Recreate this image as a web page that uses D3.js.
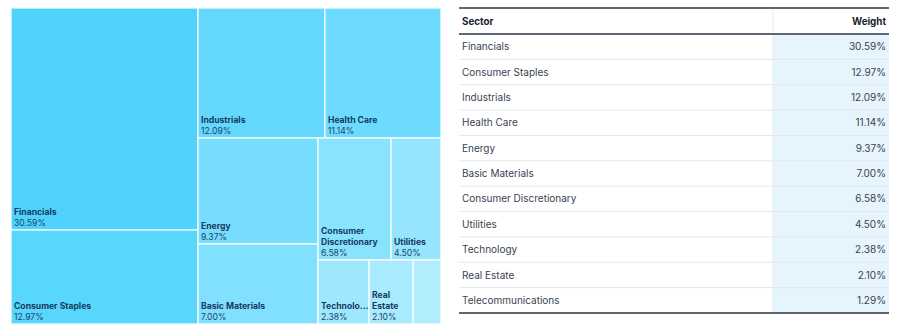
<!DOCTYPE html>
<html>
<head>
<meta charset="utf-8">
<script src="https://cdn.jsdelivr.net/npm/d3@7"></script>
<style>
  body { margin: 0; background: #fff; font-family: Inter, "Noto Sans", sans-serif; }
</style>
</head>
<body>
<svg id="chart" width="900" height="332"></svg>
<script>
// data
const sectors = ["Financials", "Consumer Staples", "Industrials", "Health Care", "Energy",
  "Basic Materials", "Consumer Discretionary", "Utilities", "Technology", "Real Estate", "Telecommunications"];
const weights = [30.59, 12.97, 12.09, 11.14, 9.37, 7.00, 6.58, 4.50, 2.38, 2.10, 1.29];
// how labels get broken / cut in the small cells
const labelLines = {
  "Consumer Discretionary": ["Consumer", "Discretionary"],
  "Real Estate": ["Real", "Estate"],
  "Technology": ["Technolo..."],
  "Telecommunications": []
};

const svg = d3.select("#chart");
const fmt = d => d.toFixed(2) + "%";

// ---- treemap ----
const tm = { x: 11, y: 8, w: 430, h: 316 };
const rows = sectors.map((s, i) => ({ name: s, value: weights[i], rank: i }));

const root = d3.hierarchy({ children: rows }).sum(d => d.value).sort((a, b) => b.value - a.value);
d3.treemap().tile(d3.treemapSquarify.ratio(1.35)).size([tm.w, tm.h]).round(true)(root);

const color = d3.scaleLinear().domain([0, sectors.length - 1]).range(["#4fd3fc", "#b2edfe"]);

const g = svg.append("g").attr("transform", `translate(${tm.x},${tm.y})`);
const cell = g.selectAll("g.cell").data(root.leaves()).join("g")
  .attr("class", "cell")
  .attr("transform", d => `translate(${d.x0},${d.y0})`);

cell.append("rect")
  .attr("width", d => d.x1 - d.x0)
  .attr("height", d => d.y1 - d.y0)
  .attr("fill", d => color(d.data.rank))
  .attr("stroke", "#fff").attr("stroke-width", 1.2);

cell.each(function (d) {
  const lines = labelLines[d.data.name] || [d.data.name];
  if (!lines.length) return;
  const h = d.y1 - d.y0;
  const t = d3.select(this);
  lines.forEach((ln, j) => {
    t.append("text")
      .attr("x", 3)
      .attr("y", h - 4.5 - 11 * (lines.length - j))
      .attr("font-size", 8.6).attr("font-weight", 700)
      .attr("fill", "#163a63")
      .text(ln);
  });
  t.append("text")
    .attr("x", 3).attr("y", h - 4.5)
    .attr("font-size", 8.6)
    .attr("fill", "#1d4470")
    .text(fmt(d.data.value));
});

// ---- table ----
const tb = { x: 459, y: 8, w: 430, colX: 773, headH: 26 };
const rowH = (313 - (tb.y + tb.headH)) / sectors.length;
const y = d3.scaleBand().domain(sectors).range([tb.y + tb.headH, tb.y + tb.headH + rowH * sectors.length]);

const tg = svg.append("g");
tg.append("rect")
  .attr("x", tb.colX).attr("y", y.range()[0])
  .attr("width", tb.x + tb.w - tb.colX).attr("height", y.range()[1] - y.range()[0])
  .attr("fill", "#e5f4fd");
tg.append("line")
  .attr("x1", tb.colX).attr("x2", tb.colX)
  .attr("y1", tb.y).attr("y2", y.range()[1])
  .attr("stroke", "#e3e7ec");

tg.selectAll("line.sep").data(sectors.slice(1)).join("line")
  .attr("class", "sep")
  .attr("x1", tb.x).attr("x2", tb.x + tb.w)
  .attr("y1", d => y(d)).attr("y2", d => y(d))
  .attr("stroke", "#e3e6ea");

[tb.y, tb.y + tb.headH, y.range()[1]].forEach(yy => {
  tg.append("line")
    .attr("x1", tb.x).attr("x2", tb.x + tb.w)
    .attr("y1", yy).attr("y2", yy)
    .attr("stroke", "#2b3443").attr("stroke-width", 1.6);
});

tg.append("text").attr("x", 462).attr("y", tb.y + tb.headH / 2 + 3.5)
  .attr("font-size", 9.8).attr("font-weight", 700).attr("fill", "#1b2331").text("Sector");
tg.append("text").attr("x", 886).attr("y", tb.y + tb.headH / 2 + 3.5)
  .attr("text-anchor", "end")
  .attr("font-size", 9.8).attr("font-weight", 700).attr("fill", "#1b2331").text("Weight");

tg.selectAll("text.name").data(rows).join("text")
  .attr("class", "name")
  .attr("x", 462).attr("y", d => y(d.name) + rowH / 2 + 3.6)
  .attr("font-size", 10).attr("fill", "#3a4352")
  .text(d => d.name);
tg.selectAll("text.val").data(rows).join("text")
  .attr("class", "val")
  .attr("x", 886).attr("y", d => y(d.name) + rowH / 2 + 3.6)
  .attr("text-anchor", "end")
  .attr("font-size", 10).attr("fill", "#3a4352")
  .text(d => fmt(d.value));
</script>
</body>
</html>
